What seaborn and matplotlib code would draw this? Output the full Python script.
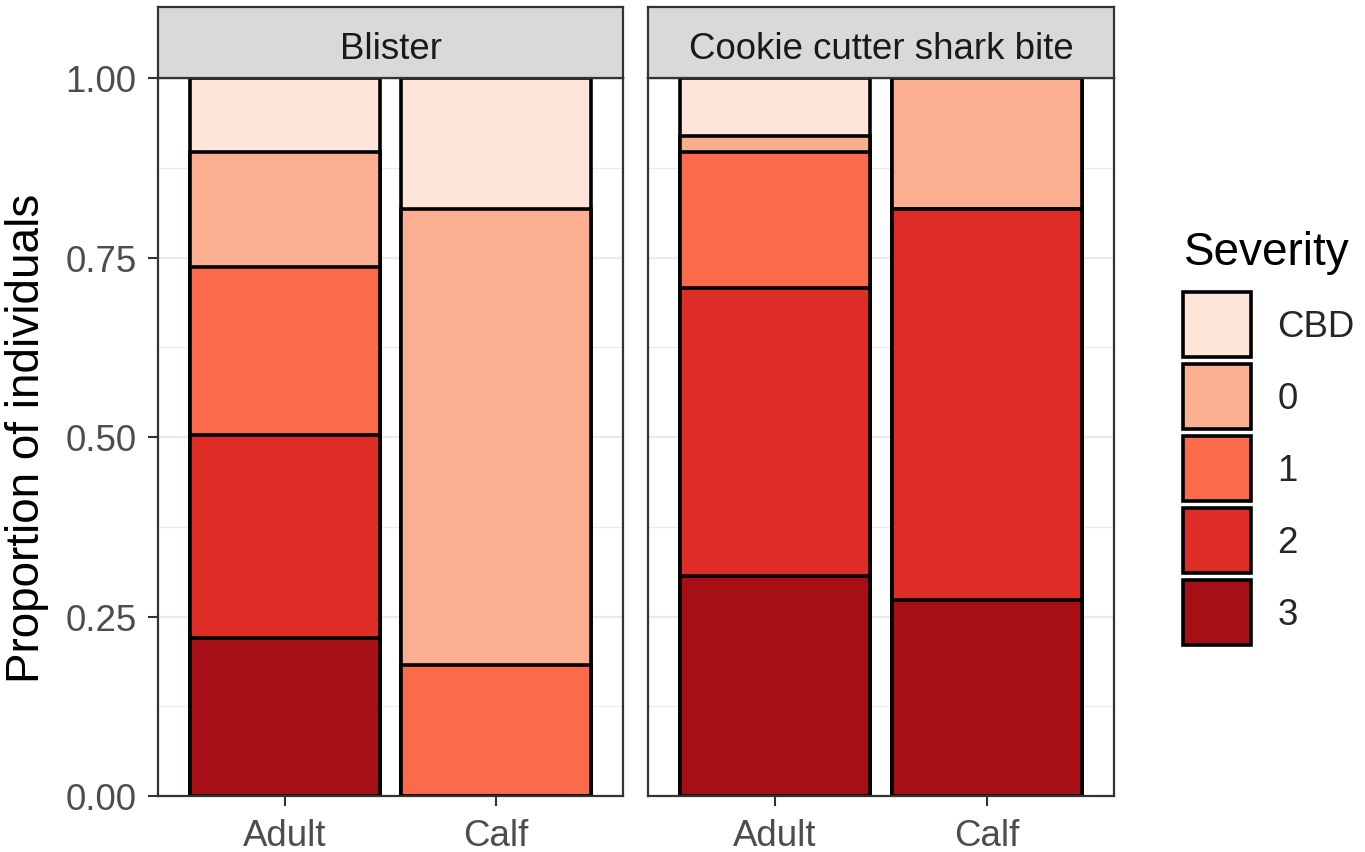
import matplotlib
matplotlib.use("Agg")
import matplotlib.pyplot as plt
import seaborn as sns
import pandas as pd
from matplotlib.patches import Patch

# ---------------- data ----------------
facets = ["Blister", "Cookie cutter shark bite"]
ages = ["Adult", "Calf"]
severity = ["CBD", "0", "1", "2", "3"]
colors = ["#FEE5D9", "#FCAE91", "#FB6A4A", "#DE2D26", "#A50F15"]

# proportions per severity, in order CBD, 0, 1, 2, 3
blister_adult = [0.103, 0.160, 0.234, 0.283, 0.220]
blister_calf = [0.182, 0.636, 0.182, 0.000, 0.000]
cookie_adult = [0.081, 0.022, 0.190, 0.400, 0.307]
cookie_calf = [0.000, 0.182, 0.000, 0.545, 0.273]

y_ticks = [0.00, 0.25, 0.50, 0.75, 1.00]
y_minor = [0.125, 0.375, 0.625, 0.875]
y_ticklabels = ["0.00", "0.25", "0.50", "0.75", "1.00"]

rows = []
for facet, adult, calf in [(facets[0], blister_adult, blister_calf),
                           (facets[1], cookie_adult, cookie_calf)]:
    for age, vals in zip(ages, [adult, calf]):
        for sev, v in zip(severity, vals):
            rows.append(dict(facet=facet, age=age, severity=sev, prop=v))
df = pd.DataFrame(rows)
rank = {s: i for i, s in enumerate(severity)}
df["rank"] = df["severity"].map(rank)
df = df.sort_values(["facet", "age", "rank"], ascending=[True, True, False])
df["top"] = df.groupby(["facet", "age"])["prop"].cumsum()

# ---------------- style ----------------
sns.set_style("white")
plt.rcParams["font.family"] = ["Liberation Sans", "DejaVu Sans"]

W, H = 1365, 853
fig = plt.figure(figsize=(W / 100, H / 100), dpi=100)

panel_l = [158, 648]
panel_r = [623, 1114]
panel_top, panel_bot = 79, 797
strip_top = 8

small = 26.4
big = 33
dark = "#333333"

for i, facet in enumerate(facets):
    ax = fig.add_axes([panel_l[i] / W, 1 - panel_bot / H,
                       (panel_r[i] - panel_l[i]) / W, (panel_bot - panel_top) / H])
    sub = df[df["facet"] == facet]
    for sev, col in zip(severity, colors):
        d = sub[sub["severity"] == sev]
        sns.barplot(data=d, x="age", y="top", order=ages, color=col,
                    saturation=1, edgecolor="black", linewidth=2.6,
                    width=0.9, errorbar=None, ax=ax)
    ax.set_xlim(-0.6, 1.6)
    ax.set_ylim(0, 1)
    ax.set_yticks(y_ticks)
    ax.set_yticks(y_minor, minor=True)
    ax.set_axisbelow(True)
    ax.grid(False)
    ax.yaxis.grid(True, which="major", color="#EBEBEB", linewidth=1.6)
    ax.yaxis.grid(True, which="minor", color="#EBEBEB", linewidth=0.9)
    ax.set_xlabel("")
    ax.set_ylabel("")
    for sp in ax.spines.values():
        sp.set_color(dark)
        sp.set_linewidth(1.6)
        sp.set_visible(True)
    ax.tick_params(axis="both", which="major", length=7, width=1.5, color=dark,
                   labelsize=small, labelcolor="#4D4D4D",
                   bottom=True, left=True)
    ax.tick_params(axis="x", which="major", pad=9)
    ax.tick_params(axis="y", which="major", pad=8.5)
    ax.tick_params(axis="y", which="minor", length=0)
    if i == 0:
        ax.set_yticklabels(y_ticklabels)
    else:
        ax.tick_params(axis="y", which="major", left=False, labelleft=False)

    # strip
    sax = fig.add_axes([panel_l[i] / W, 1 - panel_top / H,
                        (panel_r[i] - panel_l[i]) / W, (panel_top - strip_top) / H])
    sax.set_facecolor("#D9D9D9")
    sax.set_xticks([])
    sax.set_yticks([])
    for sp in sax.spines.values():
        sp.set_color(dark)
        sp.set_linewidth(1.6)
        sp.set_visible(True)
    sax.text(0.5, (panel_top - 59) / (panel_top - strip_top), facet,
             ha="center", va="baseline", fontsize=small,
             color="#1A1A1A", transform=sax.transAxes)

fig.text(27 / W, 1 - 438 / H, "Proportion of individuals", rotation=90,
         ha="center", va="center", fontsize=big, color="black")

# legend title and keys
fig.text(1184 / W, 1 - 265 / H, "Severity", ha="left", va="baseline",
         fontsize=big, color="black")
handles = [Patch(facecolor=c, edgecolor="black", linewidth=2.6, label=s)
           for s, c in zip(severity, colors)]
leg = fig.legend(handles=handles, loc="upper left",
                 bbox_to_anchor=(1183 / W, 1 - 293 / H), frameon=False,
                 fontsize=small, handlelength=1.85,
                 handleheight=2.35, labelspacing=0.19, handletextpad=0.72,
                 borderpad=0, borderaxespad=0)

fig.savefig("out.png", dpi=100)
